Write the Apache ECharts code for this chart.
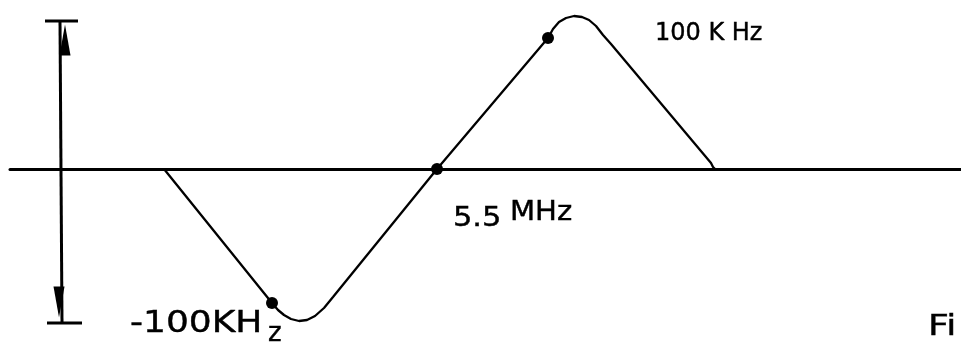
<!DOCTYPE html>
<html>
<head>
<meta charset="utf-8">
<script src="https://cdn.jsdelivr.net/npm/echarts@6/dist/echarts.min.js"></script>
<style>
  html, body { margin: 0; padding: 0; background: #fff; }
  #main { width: 961px; height: 344px; }
</style>
</head>
<body>
<div id="main"></div>
<script>
// discriminator curve, x = offset from 5.5 MHz centre, y = output
var curveX = [-273, -165, -159, -153, -146, -138, -130, -122, -113, -104, 0, 111, 116, 122, 129, 137, 145, 152, 159, 166, 174, 274, 276, 278];
var curveY = [0, -134, -141, -146, -150, -152, -151, -147, -139, -128, 0, 131, 140, 147, 151, 153, 152, 149, 143, 134, 125, 6, 2, 0];

// marked points on the curve (-100 kHz, 5.5 MHz, +100 kHz)
var dotX = [-165, 0, 111];
var dotY = [-134, 0, 131];

// amplitude bracket on the left
var spanX = [-377, -375];
var spanY = [148, -154];
var capX = [[-392, -359], [-390, -355]];
var capY = [148, -154];
var arrowX = [-372, -378];
var arrowY = [129, -133];

// text notes
var noteText = ['100 K Hz', '5.5', 'MHz', '-100KH', 'z', 'Fi'];
var noteX = [218, 16, 73, -307, -169, 491];
var noteY = [135, -50, -44, -155, -165, -159];
var noteSize = [24, 26, 26, 30, 26, 28];
var noteStretch = [1.0, 1.17, 1.12, 1.2, 1.0, 1.3];

function pairs(xs, ys) {
	var out = [];
	for (var i = 0; i < xs.length; i++) out.push([xs[i], ys[i]]);
	return out;
}

var chart = echarts.init(document.getElementById('main'));

var series = [
	{
		name: 'curve',
		type: 'line',
		data: pairs(curveX, curveY),
		showSymbol: false,
		smooth: false,
		lineStyle: { color: '#000', width: 2.3 },
		silent: true
	},
	{
		name: 'points',
		type: 'scatter',
		data: pairs(dotX, dotY),
		symbolSize: 12,
		itemStyle: { color: '#000', opacity: 1 },
		silent: true
	},
	{
		name: 'span',
		type: 'line',
		data: pairs(spanX, spanY),
		showSymbol: false,
		lineStyle: { color: '#000', width: 3 },
		silent: true
	},
	{
		name: 'arrows',
		type: 'scatter',
		data: [
			{ value: [arrowX[0], arrowY[0]], symbolRotate: 0 },
			{ value: [arrowX[1], arrowY[1]], symbolRotate: 180 }
		],
		symbol: 'triangle',
		symbolSize: [11, 31],
		itemStyle: { color: '#000', opacity: 1 },
		silent: true
	}
];
for (var c = 0; c < capX.length; c++) {
	series.push({
		name: 'cap' + c,
		type: 'line',
		data: [[capX[c][0], capY[c]], [capX[c][1], capY[c]]],
		showSymbol: false,
		lineStyle: { color: '#000', width: 3 },
		silent: true
	});
}

var option = {
	animation: false,
	backgroundColor: '#fff',
	grid: { left: 10, right: 0, top: 0, bottom: 0 },
	xAxis: {
		type: 'value',
		min: -427,
		max: 524,
		axisLine: { onZero: true, lineStyle: { color: '#000', width: 3 } },
		axisTick: { show: false },
		axisLabel: { show: false },
		splitLine: { show: false }
	},
	yAxis: {
		type: 'value',
		min: -175,
		max: 169,
		axisLine: { show: false },
		axisTick: { show: false },
		axisLabel: { show: false },
		splitLine: { show: false }
	},
	series: series
};
chart.setOption(option);

// place the notes at their data positions
var notes = [];
for (var n = 0; n < noteText.length; n++) {
	var p = chart.convertToPixel({ gridIndex: 0 }, [noteX[n], noteY[n]]);
	notes.push({
		type: 'text',
		x: p[0],
		y: p[1],
		scaleX: noteStretch[n],
		style: {
			text: noteText[n],
			fill: '#000',
			stroke: '#000',
			lineWidth: 0.4,
			font: noteSize[n] + 'px "DejaVu Sans"',
			verticalAlign: 'middle'
		}
	});
}
chart.setOption({ graphic: notes });
</script>
</body>
</html>
